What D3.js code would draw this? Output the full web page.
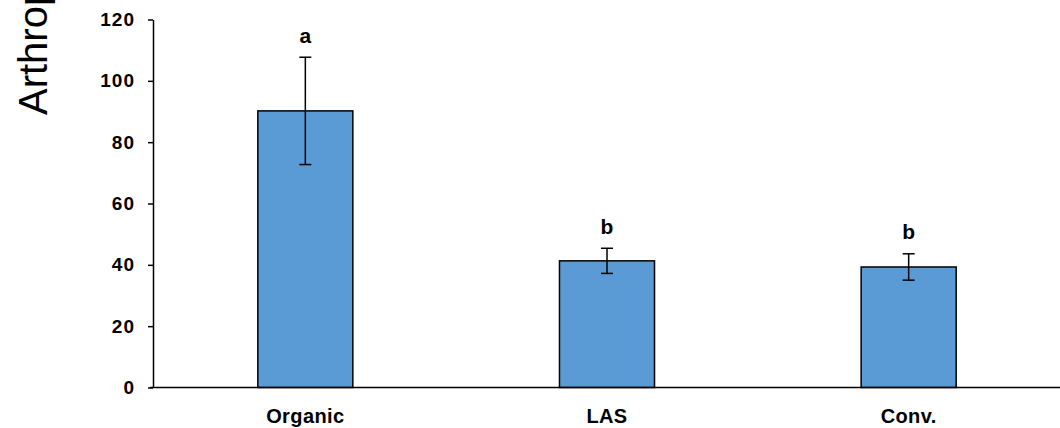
<!DOCTYPE html>
<html>
<head>
<meta charset="utf-8">
<script src="https://cdn.jsdelivr.net/npm/d3@7"></script>
<style>
  html, body { margin: 0; padding: 0; background: #fff; }
  svg { display: block; }
  text { font-family: "Liberation Sans", Arial, sans-serif; }
</style>
</head>
<body>
<svg id="chart" width="1060" height="428"></svg>
<script>
// Mean arthropod counts per farming system, with error and significance letters
const categories = ["Organic", "LAS", "Conv."];
const means = [90.2, 41.3, 39.3];
const errors = [17.5, 4.1, 4.3];
const letters = ["a", "b", "b"];
const yTicks = [0, 20, 40, 60, 80, 100, 120];
const yTitle = "Arthropods";

(function () {
  const svg = d3.select("#chart");
  const W = 1060;
  const axisX = 153;
  const plotLeft = 154.5, plotRight = 1059.5, plotTop = 19.5, plotBottom = 387.5;

  const x = d3.scaleBand()
    .domain(categories)
    .range([plotLeft, plotRight])
    .paddingInner(0.685)
    .paddingOuter(0.3425);

  const y = d3.scaleLinear().domain([0, 120]).range([plotBottom, plotTop]);

  // Bars
  svg.append("g").selectAll("rect")
    .data(categories)
    .join("rect")
    .attr("x", d => x(d))
    .attr("y", (d, i) => y(means[i]))
    .attr("width", x.bandwidth())
    .attr("height", (d, i) => y(0) - y(means[i]))
    .attr("fill", "#5b9bd5")
    .attr("stroke", "#000")
    .attr("stroke-width", 1.5);

  // Error bars
  const cap = 6;
  const eb = svg.append("g").attr("stroke", "#000").attr("stroke-width", 1.5);
  categories.forEach((c, i) => {
    const cx = x(c) + x.bandwidth() / 2;
    const y1 = y(means[i] + errors[i]);
    const y0 = y(means[i] - errors[i]);
    eb.append("line").attr("x1", cx).attr("x2", cx).attr("y1", y1).attr("y2", y0);
    eb.append("line").attr("x1", cx - cap).attr("x2", cx + cap).attr("y1", y1).attr("y2", y1);
    eb.append("line").attr("x1", cx - cap).attr("x2", cx + cap).attr("y1", y0).attr("y2", y0);
  });

  // Significance letters
  svg.append("g").selectAll("text")
    .data(categories)
    .join("text")
    .attr("x", d => x(d) + x.bandwidth() / 2)
    .attr("y", (d, i) => y(means[i] + errors[i]) - 14.5)
    .attr("text-anchor", "middle")
    .attr("font-size", 21)
    .attr("font-weight", "bold")
    .text((d, i) => letters[i]);

  // Y axis
  const yAxis = svg.append("g")
    .attr("transform", `translate(${axisX},0)`)
    .call(d3.axisLeft(y).tickValues(yTicks).tickSize(5).tickPadding(13).tickSizeOuter(0));
  yAxis.select(".domain").attr("stroke-width", 1.5);
  yAxis.selectAll(".tick line").attr("stroke-width", 1.5);
  yAxis.selectAll(".tick text")
    .attr("font-size", 19)
    .attr("font-weight", "bold")
    .attr("letter-spacing", 1)
    .attr("fill", "#000")
    .attr("font-family", "'Liberation Sans', Arial, sans-serif");

  // X axis baseline
  svg.append("line")
    .attr("x1", 150).attr("x2", W)
    .attr("y1", y(0)).attr("y2", y(0))
    .attr("stroke", "#000").attr("stroke-width", 1.5);

  // Category labels
  svg.append("g").selectAll("text")
    .data(categories)
    .join("text")
    .attr("x", d => x(d) + x.bandwidth() / 2)
    .attr("y", 422.5)
    .attr("text-anchor", "middle")
    .attr("font-size", 20)
    .attr("font-weight", "bold")
    .attr("letter-spacing", 0.4)
    .text(d => d);

  // Y axis title
  svg.append("text")
    .attr("transform", "translate(47,115) rotate(-90)")
    .attr("text-anchor", "start")
    .attr("font-size", 40)
    .text(yTitle);
})();
</script>
</body>
</html>
